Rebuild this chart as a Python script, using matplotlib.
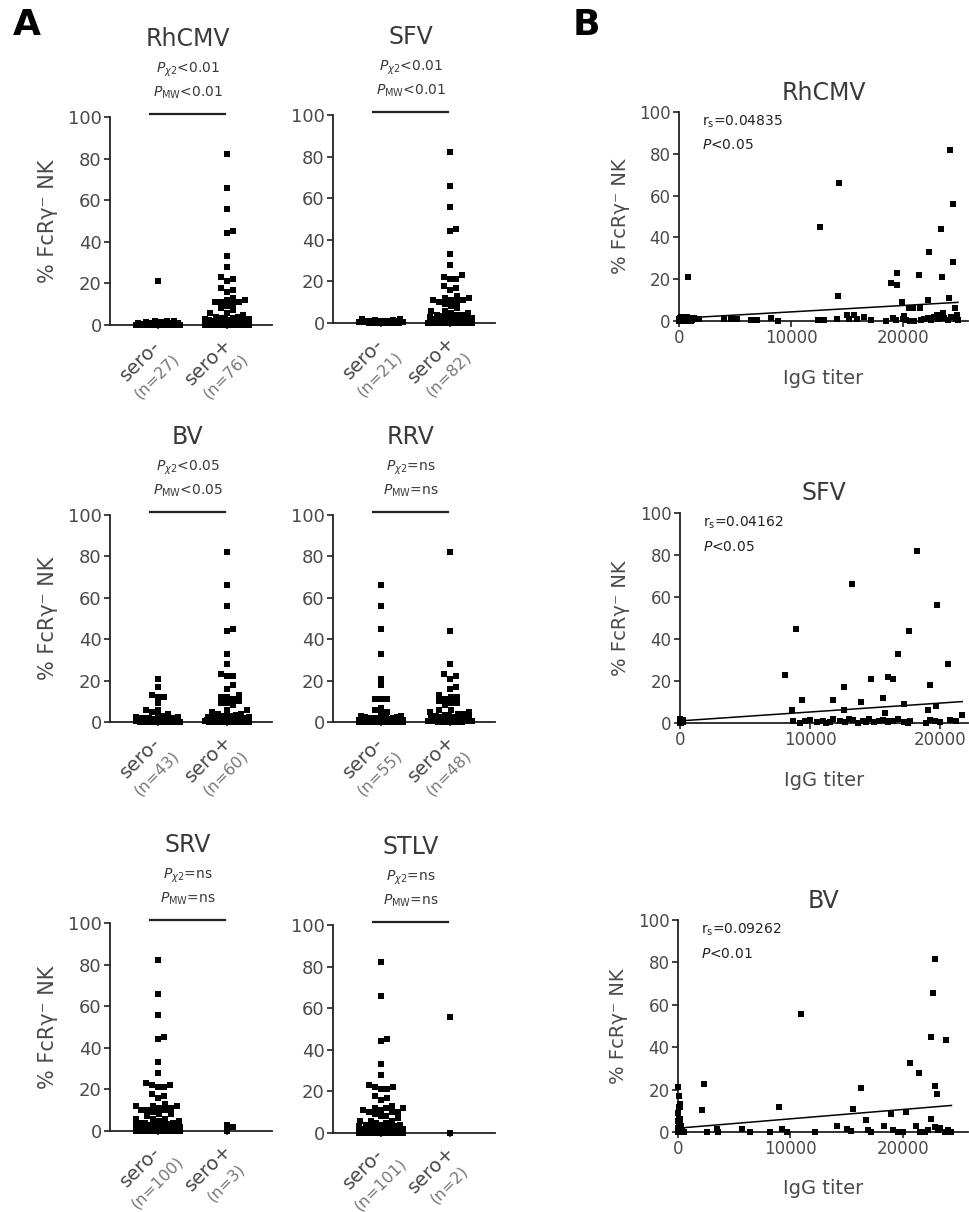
import numpy as np
import matplotlib
matplotlib.use('Agg')
import matplotlib.pyplot as plt

plt.rcParams['font.family'] = ['DejaVu Sans']
plt.rcParams['mathtext.fontset'] = 'dejavusans'

# ---------------- panel A data: % FcRg- NK by serostatus ----------------
a_titles = ['RhCMV', 'SFV', 'BV', 'RRV', 'SRV', 'STLV']
a_pchi = ['<0.01', '<0.01', '<0.05', '=ns', '=ns', '=ns']
a_pmw = ['<0.01', '<0.01', '<0.05', '=ns', '=ns', '=ns']

rhcmv_neg = [21, 2, 2, 1.8, 1.5, 1.5, 1.2, 1, 1, 1, 0.8, 0.8, 0.6, 0.5, 0.5, 0.4, 0.3, 0.3,
             0.2, 0.2, 0.1, 0.1, 0, 0, 0, 0, 0]
rhcmv_pos = [82, 66, 56, 45, 44, 33, 28, 23, 22, 21, 18, 17, 16, 13, 12, 12, 11, 11, 11, 10,
             9, 8, 7, 6, 6, 5,
             4, 4, 3.5, 3.5, 3, 3, 3, 2.5, 2.5, 2.5, 2, 2, 2, 2, 1.8, 1.8, 1.5, 1.5, 1.5, 1.5,
             1.2, 1.2, 1.2, 1, 1, 1, 1, 0.8, 0.8, 0.8, 0.6, 0.6, 0.5, 0.5, 0.5, 0.4, 0.4, 0.3,
             0.3, 0.3, 0.2, 0.2, 0.1, 0.1, 0, 0, 0, 0, 0, 0]
sfv_neg = [2, 1.8, 1.5, 1.5, 1.2, 1, 1, 1, 0.8, 0.6, 0.5, 0.5, 0.4, 0.3, 0.3, 0.2, 0.1,
           0, 0, 0, 0]
sfv_pos = [82, 66, 56, 45, 44, 33, 28, 23, 22, 21, 21, 18, 17, 16, 13, 12, 12, 11, 11, 11,
           10, 10, 9, 8, 7, 6, 6, 5, 5,
           4, 4, 4, 3.5, 3.5, 3, 3, 3, 2.5, 2.5, 2.5, 2, 2, 2, 2, 1.8, 1.8, 1.5, 1.5, 1.5,
           1.5, 1.2, 1.2, 1.2, 1, 1, 1, 1, 0.8, 0.8, 0.8, 0.6, 0.6, 0.5, 0.5, 0.5, 0.4, 0.4,
           0.3, 0.3, 0.3, 0.2, 0.2, 0.1, 0.1, 0, 0, 0, 0, 0, 0, 0, 0]
bv_neg = [21, 17, 13, 12, 12, 9, 6, 6, 5, 4, 3, 3,
          2.5, 2.5, 2, 2, 2, 1.8, 1.5, 1.5, 1.5, 1.2, 1.2, 1, 1, 1, 0.8, 0.8, 0.6, 0.5, 0.5,
          0.4, 0.4, 0.3, 0.3, 0.2, 0.1, 0, 0, 0, 0, 0, 0]
bv_pos = [82, 66, 56, 45, 44, 33, 28, 23, 22, 22, 18, 16, 13, 12, 12, 11, 10, 9, 9, 8, 6, 6, 5,
          4, 4, 3.5, 3, 3, 3, 2.5, 2.5, 2, 2, 2, 1.8, 1.5, 1.5, 1.5, 1.2, 1.2, 1, 1, 1,
          0.8, 0.8, 0.6, 0.6, 0.5, 0.5, 0.4, 0.3, 0.3, 0.2, 0.2, 0.1, 0, 0, 0, 0, 0]
rrv_neg = [66, 56, 45, 33, 21, 18, 11, 11, 11, 7, 6, 5, 4,
           3, 3, 2.5, 2.5, 2, 2, 2, 1.8, 1.8, 1.5, 1.5, 1.5, 1.2, 1.2, 1.2, 1, 1, 1, 1, 0.8,
           0.8, 0.8, 0.6, 0.6, 0.5, 0.5, 0.5, 0.4, 0.4, 0.3, 0.3, 0.3, 0.2, 0.2, 0.1, 0.1,
           0, 0, 0, 0, 0, 0]
rrv_pos = [82, 44, 28, 23, 22, 21, 17, 16, 13, 12, 12, 11, 10, 9, 9, 8, 6, 6, 5, 5,
           4, 4, 3.5, 3, 3, 2.5, 2.5, 2, 2, 1.8, 1.5, 1.5, 1.2, 1.2, 1, 1, 0.8, 0.8, 0.6,
           0.5, 0.5, 0.4, 0.3, 0.2, 0.1, 0, 0, 0]
srv_neg = [82, 66, 56, 45, 44, 33, 28, 23, 22, 22, 21, 21, 18, 17, 16, 13, 12, 12, 12, 11,
           11, 10, 10, 10, 9, 8, 8, 7, 6, 6, 6, 5, 5, 4, 4,
           4, 3.5, 3.5, 3, 3, 3, 2.5, 2.5, 2.5, 2, 2, 2, 2, 1.8, 1.8, 1.8, 1.5, 1.5, 1.5, 1.5,
           1.2, 1.2, 1.2, 1.2, 1, 1, 1, 1, 1, 0.8, 0.8, 0.8, 0.8, 0.6, 0.6, 0.6, 0.5, 0.5,
           0.5, 0.5, 0.4, 0.4, 0.4, 0.3, 0.3, 0.3, 0.3, 0.2, 0.2, 0.2, 0.1, 0.1, 0.1,
           0, 0, 0, 0, 0, 0, 0, 0, 0, 0, 0, 0]
srv_pos = [3, 0, 2]
stlv_neg = [82, 66, 45, 44, 33, 28, 23, 22, 22, 21, 21, 18, 17, 16, 13, 12, 12, 12, 11, 11,
            10, 10, 10, 9, 8, 8, 7, 6, 6, 6, 5, 5, 4, 4,
            4, 3.5, 3.5, 3, 3, 3, 3, 2.5, 2.5, 2.5, 2, 2, 2, 2, 2, 1.8, 1.8, 1.8, 1.5, 1.5,
            1.5, 1.5, 1.2, 1.2, 1.2, 1.2, 1, 1, 1, 1, 1, 0.8, 0.8, 0.8, 0.8, 0.6, 0.6, 0.6,
            0.5, 0.5, 0.5, 0.5, 0.4, 0.4, 0.4, 0.3, 0.3, 0.3, 0.3, 0.2, 0.2, 0.2, 0.1, 0.1,
            0.1, 0, 0, 0, 0, 0, 0, 0, 0, 0, 0, 0, 0]
stlv_pos = [56, 0]

a_neg = [rhcmv_neg, sfv_neg, bv_neg, rrv_neg, srv_neg, stlv_neg]
a_pos = [rhcmv_pos, sfv_pos, bv_pos, rrv_pos, srv_pos, stlv_pos]

# ---------------- panel B data: IgG titer vs % FcRg- NK ----------------
b_titles = ['RhCMV', 'SFV', 'BV']
b_rs = ['0.04835', '0.04162', '0.09262']
b_p = ['<0.05', '<0.05', '<0.01']
b_fit_intercept = [1.3, 1.0, 1.8]
b_fit_slope = [0.000306, 0.000424, 0.000441]

rhcmv_titer = [800, 12600, 14300, 14200, 18900, 19500, 19500, 19900, 20500, 20900, 21500,
               21400, 22300, 22200, 23400, 23500, 24200, 24500, 24500, 24100, 24600, 15000,
               15600, 23600, 24800, 20100, 23000,
               4000, 4600, 5200, 6400, 7000, 8200, 8800, 12400, 12900, 14100, 15200, 15900,
               17100, 19100, 19400, 20000, 20300, 20600, 21000, 21600, 21900, 22200, 22500,
               22800, 23100, 23400, 23700, 24000, 24300, 24700, 24900, 16500, 18500,
               0, 0, 100, 200, 300, 400, 500, 600, 700, 900, 1000, 1200, 1500, 1800, 50, 150,
               250, 350, 450, 550, 650, 750, 850, 950, 1100, 1300]
rhcmv_nk = [21, 45, 66, 12, 18, 17, 23, 9, 6, 6, 6, 22, 33, 10, 44, 21, 82, 56, 28, 11, 6, 3,
            3, 4, 3, 2.5, 3,
            1, 1, 1, 0.5, 0.5, 1.5, 0, 0.5, 0.5, 1, 1, 1, 0.5, 1.5, 0.5, 1, 0.5, 0, 0, 0.5,
            1, 1.5, 0.5, 2, 1, 2, 1.5, 0.5, 2, 1, 0.5, 2, 0,
            0, 1, 0.5, 2, 1, 0, 1.5, 0.5, 2, 0, 1, 0.5, 1, 1, 1.5, 0, 0.5, 2, 1, 0, 1, 0.5,
            1.5, 0.5, 0, 1.5]

sfv_titer = [8100, 8900, 8600, 9400, 13200, 11800, 12600, 12600, 13900, 14700, 15600, 15800,
             16000, 16400, 16800, 17200, 17600, 18200, 19200, 19100, 19700, 19800, 20600,
             21700,
             8700, 9200, 10000, 10500, 11000, 11500, 11800, 12300, 12700, 13300, 13700, 14100,
             14500, 14900, 15300, 15600, 16000, 16400, 16800, 17200, 17700, 18900, 19200,
             19600, 20000, 20800, 9600, 11200, 13000, 14300, 15900, 17500, 21200,
             0, 0, 0, 0, 0, 100, 150, 50, 200, 250]
sfv_nk = [23, 45, 6, 11, 66, 11, 17, 6, 10, 21, 12, 5, 22, 21, 33, 9, 44, 82, 18, 6, 8, 56,
          28, 4,
          1, 0, 1.5, 0.5, 1, 0.5, 2, 1, 0.5, 1.5, 0, 1, 2, 0.5, 1, 1.5, 0.5, 1, 2, 0.5, 1,
          0, 1.5, 1, 0.5, 1.5, 1, 0, 2, 0.5, 1, 0, 1,
          0, 0.5, 1, 1.5, 2, 0.5, 1, 0, 1.5, 0.5]

bv_titer = [2150, 2330, 2540, 3430, 3580, 5670, 6420, 8210, 9010, 9250, 9700, 10900, 12150,
            14180, 15010, 15370, 15610, 16270, 16720, 16870, 17160, 18300, 18960, 19100,
            19550, 20000, 20240, 20600, 21190, 21490, 21400, 22480, 22540, 22690, 22840, 22840,
            23040, 22840, 23100, 23280, 23880, 23730, 24030, 24330, 21940, 22240,
            0, 100, 150, 50, 200, 0, 100, 200, 0, 150, 50, 250, 300, 0, 100, 200, 0, 100, 200,
            300, 400, 500, 0, 50, 150, 250]
bv_nk = [10.6, 22.5, 0, 1.5, 0, 1.6, 0, 0, 11.8, 1.5, 0, 55.5, 0,
         2.7, 1.5, 0.5, 10.9, 20.8, 5.8, 1, 0, 2.7, 8.7, 1, 0, 0, 9.4, 32.6, 2.7, 0, 27.6,
         6, 45, 65.5, 81.5, 21.7, 17.8, 2.5, 1, 1.8, 43.6, 0, 1, 0, 0, 1,
         21, 17, 13, 12, 12, 9, 6, 6, 5, 4, 3, 3, 2, 2, 1.5, 1, 0.5, 0, 0, 0.5, 1, 0, 0, 1,
         0.5, 1.5]

b_titer = [rhcmv_titer, sfv_titer, bv_titer]
b_nk = [rhcmv_nk, sfv_nk, bv_nk]
b_xmax = [25800, 22150, 25800]

# ---------------- layout ----------------
W, H = 969, 1212
fig = plt.figure(figsize=(W / 100, H / 100), dpi=100)

TXT = '#3a3a3a'
TICK = '#4a4a4a'
NCOL = '#777777'
YLAB = '% FcRγ⁻ NK'


def px_axes(left, top, right, bottom):
    return fig.add_axes([left / W, 1 - bottom / H, (right - left) / W, (bottom - top) / H])


def style(ax, fs):
    for s in ['top', 'right']:
        ax.spines[s].set_visible(False)
    for s in ['left', 'bottom']:
        ax.spines[s].set_linewidth(1.3)
        ax.spines[s].set_color('#222222')
    ax.tick_params(axis='both', colors='#222222', labelcolor=TICK, labelsize=fs,
                   width=1.2, length=4, pad=2, direction='out')


def swarm(ax, xcat, vals, size_px=5.2, max_half=22):
    vals = np.asarray(vals, dtype=float)
    pts = ax.transData.transform(np.column_stack([np.full(len(vals), xcat), vals]))
    x0 = pts[0, 0]
    ypx = pts[:, 1]
    cands = [0.0]
    for k in np.arange(1.0, max_half + 0.5, 1.0):
        cands += [k, -k]
    order = np.argsort(vals, kind='stable')
    placed = []
    offs = np.zeros(len(vals))
    for i in order:
        best, bestd, bestc = None, -1.0, 0.0
        for c in cands:
            mind = 1e9
            for (px, py) in placed:
                d = max(abs(px - c), abs(py - ypx[i]))
                if d < mind:
                    mind = d
            if mind >= size_px:
                best = c
                break
            if mind > bestd:
                bestd, bestc = mind, c
        if best is None:
            best = bestc
        offs[i] = best
        placed.append((best, ypx[i]))
    inv = ax.transData.inverted()
    return inv.transform(np.column_stack([x0 + offs, ypx]))[:, 0]


a_boxes = [(110, 117, 272, 325), (333, 115, 495, 323),
           (110, 515, 272, 722), (333, 515, 495, 722),
           (110, 923, 272, 1131), (333, 925, 495, 1133)]

for k in range(6):
    l, t, r, b = a_boxes[k]
    ax = px_axes(l, t, r, b)
    style(ax, 13)
    ax.set_xlim(-0.70, 1.65)
    ax.set_ylim(0, 100)
    ax.set_yticks([0, 20, 40, 60, 80, 100])
    ax.set_xticks([0, 1])
    ax.set_xticklabels([])
    ax.tick_params(axis='x', length=3)
    for cat, vals in [(0, a_neg[k]), (1, a_pos[k])]:
        xs = swarm(ax, cat, vals)
        ax.scatter(xs, vals, marker='s', s=14, color='black', linewidths=0,
                   clip_on=False, zorder=5)
    labels = [('sero-', len(a_neg[k])), ('sero+', len(a_pos[k]))]
    for cat, (lab, n) in enumerate(labels):
        ax.annotate(lab, xy=(cat, 0), xycoords='data', xytext=(-13, -26),
                    textcoords='offset points', rotation=45, rotation_mode='anchor',
                    ha='center', va='center', fontsize=14, color=TICK,
                    annotation_clip=False)
        ax.annotate('(n=%d)' % n, xy=(cat, 0), xycoords='data', xytext=(-1, -37),
                    textcoords='offset points', rotation=45, rotation_mode='anchor',
                    ha='center', va='center', fontsize=11.5, color=NCOL,
                    annotation_clip=False)
    ax.plot([-0.12, 0.97], [101.5, 101.5], color='#222222', lw=1.6, clip_on=False)
    ax.text(0.425, 111.5, r'$P_{\mathrm{MW}}$' + a_pmw[k], ha='center', va='center',
            fontsize=10, color=TXT, clip_on=False)
    ax.text(0.425, 122.6, r'$P_{\chi2}$' + a_pchi[k], ha='center', va='center',
            fontsize=10, color=TXT, clip_on=False)
    ax.text(0.425, 137.5, a_titles[k], ha='center', va='center', fontsize=17,
            color=TXT, clip_on=False)
    if k % 2 == 0:
        ax.set_ylabel(YLAB, fontsize=15, color=TICK, va='center')
        ax.yaxis.set_label_coords(-62 / 162, 0.5)

b_boxes = [(679, 112, 968, 321), (680, 513, 968, 723), (678, 920, 968, 1132)]

for k in range(3):
    l, t, r, b = b_boxes[k]
    ax = px_axes(l, t, r, b)
    style(ax, 12)
    ax.set_xlim(0, b_xmax[k])
    ax.set_ylim(0, 100)
    ax.set_yticks([0, 20, 40, 60, 80, 100])
    ax.set_xticks([0, 10000, 20000])
    ax.tick_params(axis='y', length=4)
    ax.scatter(b_titer[k], b_nk[k], marker='s', s=13, color='black', linewidths=0,
               clip_on=False, zorder=5)
    xl = np.array([0, max(b_titer[k])])
    ax.plot(xl, b_fit_intercept[k] + b_fit_slope[k] * xl, color='black', lw=1.1,
            zorder=4)
    ax.text(0.08, 0.955, r'r$_\mathrm{s}$=' + b_rs[k], transform=ax.transAxes,
            fontsize=10, color='#222222', va='center', ha='left')
    ax.text(0.08, 0.84, r'$P$' + b_p[k], transform=ax.transAxes,
            fontsize=10, color='#222222', va='center', ha='left')
    ax.set_title(b_titles[k], fontsize=17, color=TXT, pad=9)
    ax.set_ylabel(YLAB, fontsize=14, color=TICK, va='center')
    ax.yaxis.set_label_coords(-59 / (r - l), 0.5)
    ax.set_xlabel('IgG titer', fontsize=14, color=TICK)
    ax.xaxis.set_label_coords(0.5, -57 / (b - t))
    ax.xaxis.label.set_va('center')

fig.text(13 / W, 1 - 25 / H, 'A', fontsize=26, fontweight='bold', ha='left', va='center')
fig.text(573 / W, 1 - 25 / H, 'B', fontsize=26, fontweight='bold', ha='left', va='center')

fig.savefig('out.png', dpi=100)
